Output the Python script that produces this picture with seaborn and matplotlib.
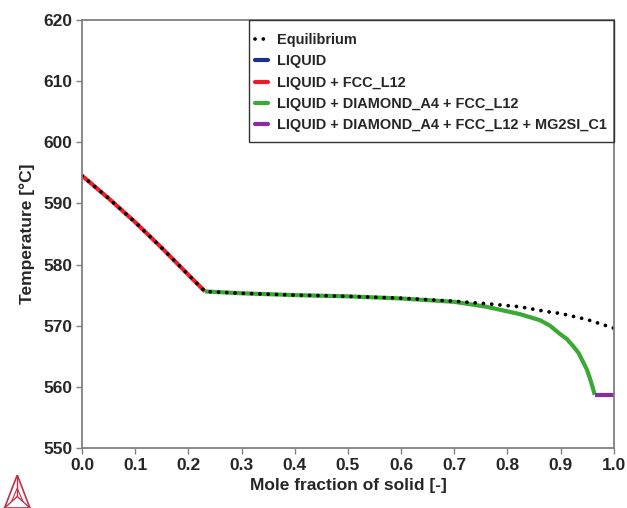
import numpy as np
import pandas as pd
import matplotlib
matplotlib.use("Agg")
import matplotlib.pyplot as plt
import seaborn as sns
from matplotlib.lines import Line2D
from matplotlib.patches import Rectangle

# Data
eq_x = [0.0, 0.05, 0.1, 0.15, 0.2, 0.231, 0.3, 0.4, 0.5, 0.6, 0.7, 0.76, 0.823, 0.874, 0.9, 0.95, 1.0]
eq_t = [594.5, 590.8, 586.9, 582.7, 578.3, 575.6, 575.3, 575.0, 574.8, 574.5, 574.0, 573.6, 573.1, 572.3, 572.0, 571.0, 569.6]

liq_fcc_x = [0.0, 0.05, 0.1, 0.15, 0.2, 0.231]
liq_fcc_t = [594.5, 590.8, 586.9, 582.7, 578.3, 575.6]

liq_dia_fcc_x = [0.231, 0.3, 0.4, 0.5, 0.6, 0.7, 0.76, 0.823, 0.861, 0.88, 0.898, 0.912, 0.924, 0.934,
                 0.942, 0.949, 0.955, 0.960, 0.964]
liq_dia_fcc_t = [575.6, 575.3, 575.0, 574.8, 574.45, 573.9, 573.1, 571.9, 570.9, 570.0, 568.7, 567.8, 566.6, 565.5,
                 564.1, 562.9, 561.4, 560.0, 558.7]

mg2si_x = [0.964, 1.0]
mg2si_t = [558.7, 558.7]

x_ticks = [0.0, 0.1, 0.2, 0.3, 0.4, 0.5, 0.6, 0.7, 0.8, 0.9, 1.0]
y_ticks = [550, 560, 570, 580, 590, 600, 610, 620]

labels = ["Equilibrium", "LIQUID", "LIQUID + FCC_L12", "LIQUID + DIAMOND_A4 + FCC_L12",
          "LIQUID + DIAMOND_A4 + FCC_L12 + MG2SI_C1"]
colors = ["black", "#1f2f8f", "#ee1c25", "#3aaa35", "#8b2aa8"]

sns.set_theme(style="white")
plt.rcParams['font.family'] = ['Liberation Sans', 'DejaVu Sans']
plt.rcParams['font.weight'] = 'bold'

fig = plt.figure(figsize=(6.27, 5.08), dpi=100)
ax = fig.add_axes([0.131, 0.118, 0.848, 0.843])

df_fcc = pd.DataFrame({"x": liq_fcc_x, "t": liq_fcc_t})
df_dia = pd.DataFrame({"x": liq_dia_fcc_x, "t": liq_dia_fcc_t})
df_mg = pd.DataFrame({"x": mg2si_x, "t": mg2si_t})
df_eq = pd.DataFrame({"x": eq_x, "t": eq_t})

dot_style = (0, (0.01, 2.2))

sns.lineplot(data=df_fcc, x="x", y="t", ax=ax, color=colors[2], lw=3, sort=False)
sns.lineplot(data=df_dia, x="x", y="t", ax=ax, color=colors[3], lw=3, sort=False)
sns.lineplot(data=df_mg, x="x", y="t", ax=ax, color=colors[4], lw=3, sort=False)
sns.lineplot(data=df_eq, x="x", y="t", ax=ax, color="black", lw=2.7, sort=False,
             linestyle=dot_style)
for l in ax.lines[:3]:
    l.set_solid_joinstyle("round")
    l.set_solid_capstyle("butt")
ax.lines[-1].set_dash_capstyle("round")

ax.set_xlim(0, 1.0)
ax.set_ylim(550, 620)
ax.set_xticks(x_ticks)
ax.set_xticklabels([f"{v:.1f}" for v in x_ticks])
ax.set_yticks(y_ticks)
ax.set_yticklabels([str(v) for v in y_ticks])
ax.tick_params(axis="both", direction="out", length=4, width=1, color="#808080",
               labelsize=12.5, bottom=True, left=True, pad=3)
for lab in ax.get_xticklabels() + ax.get_yticklabels():
    lab.set_fontweight("bold")
for s in ax.spines.values():
    s.set_color("#808080")
    s.set_linewidth(1.3)

ax.set_xlabel("Mole fraction of solid [-]", fontsize=12.5, fontweight="bold", labelpad=4)
ax.set_ylabel("Temperature [°C]", fontsize=12.5, fontweight="bold", labelpad=6)

handles = [Line2D([], [], color="black", lw=2.7, linestyle=dot_style, dash_capstyle="round")]
handles += [Line2D([], [], color=c, lw=3) for c in colors[1:]]
leg = ax.legend(handles, labels, loc="upper left", bbox_to_anchor=(0.325, 0.969),
                fontsize=10.45, frameon=False, handlelength=0.9,
                handletextpad=0.6, labelspacing=0.5, borderpad=0.0, borderaxespad=0.0)
for t in leg.get_texts():
    t.set_fontweight("bold")
# legend frame
ax.add_patch(Rectangle((0.314, 0.715), 0.686, 0.285, transform=ax.transAxes, fill=False,
                       edgecolor="#333333", lw=1.0, zorder=5, clip_on=False))

# Logo-like triangle (decorative)
lax = fig.add_axes([0.005, 0.0, 0.045, 0.065])
lax.set_xlim(0, 1); lax.set_ylim(0, 1); lax.axis("off")
lc = "#c0304a"
lax.plot([0.05, 0.5, 0.95, 0.05], [0.0, 1.0, 0.0, 0.0], color=lc, lw=1.2)
lax.plot([0.5, 0.5], [1.0, 0.35], color=lc, lw=1.0)
lax.plot([0.05, 0.5, 0.95], [0.0, 0.35, 0.0], color=lc, lw=1.0)
lax.plot([0.3, 0.5, 0.7], [0.2, 0.6, 0.2], color=lc, lw=0.8)

fig.savefig("out.png", dpi=100)
